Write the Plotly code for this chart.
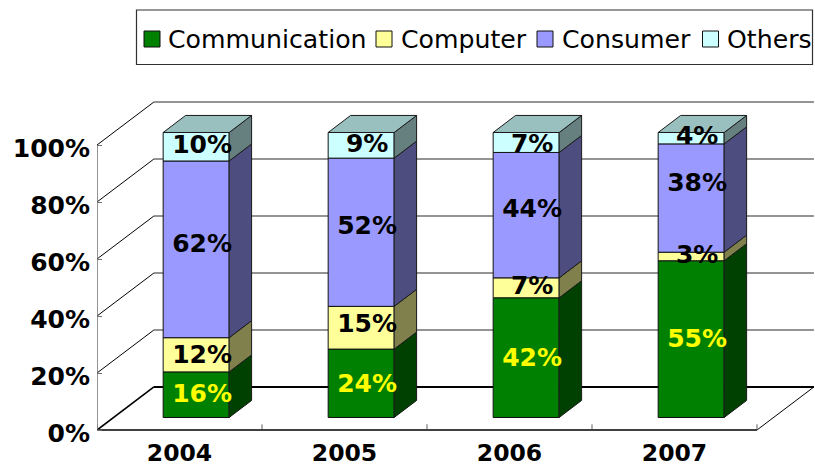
import plotly.graph_objects as go

years = ["2004", "2005", "2006", "2007"]
series_names = ["Communication", "Computer", "Consumer", "Others"]
communication = [16, 24, 42, 55]
computer = [12, 15, 7, 3]
consumer = [62, 52, 44, 38]
others = [10, 9, 7, 4]
y_ticks = [0, 20, 40, 60, 80, 100]

values = [communication, computer, consumer, others]
front_colors = ["#008000", "#FFFF99", "#9999FF", "#CCFFFF"]
side_colors = ["#004000", "#80804D", "#4D4D80", "#668080"]
top_color = "#99BFBF"
label_colors = ["#FFFF00", "#000000", "#000000", "#000000"]
label_nudge = [[-0.5, -0.7, -0.7, -0.4], [-0.7, 0.7, 0, -0.2],
               [1.1, 1.7, 1.4, 4.6], [0, 0, -1, 0]]

# 3-D projection, in axis units (categories / percent)
WALL_DX, WALL_DY = 0.345, 15.1
BAR_DX, BAR_DY = 0.101, 4.39
SIDE_DX, SIDE_DY = 0.136, 5.98
BAR_W = 0.4
LABEL_DX = 0.036
n = len(years)
centers = [i + 0.5 + BAR_DX for i in range(n)]

PX_PER_PCT = 2.85
PLOT_TOP, ZERO_Y, PLOT_BOTTOM, PLOT_LEFT = 98, 430, 436, 97
PLOT_W, PLOT_H = 718, PLOT_BOTTOM - PLOT_TOP
Y_MIN = -(PLOT_BOTTOM - ZERO_Y) / PX_PER_PCT
Y_MAX = (ZERO_Y - PLOT_TOP) / PX_PER_PCT
LABEL_DROP = 3 / PX_PER_PCT


def px(x):
    return (x - PLOT_LEFT) / PLOT_W


def py(y):
    return (PLOT_BOTTOM - y) / PLOT_H


fig = go.Figure()
shapes = []


def line(x0, y0, x1, y1, color, width):
    shapes.append(dict(type="line", xref="x", yref="y", x0=x0, y0=y0, x1=x1, y1=y1,
                       layer="below", line=dict(color=color, width=width)))


for t in y_ticks:
    floor = t == 0
    line(0, t, WALL_DX, t + WALL_DY, "#000000", 1.6 if floor else 1)
    line(WALL_DX, t + WALL_DY, n + WALL_DX, t + WALL_DY,
         "#000000" if floor else "#707070", 2 if floor else 1.5)
line(n, 0, n + WALL_DX, WALL_DY, "#000000", 1)
for i in range(n + 1):
    line(i, 0, i, 2, "#606060", 1)

# front faces
bottoms = [[0.0] * n]
for s in values:
    bottoms.append([b + v for b, v in zip(bottoms[-1], s)])
for k, name in enumerate(series_names):
    fig.add_trace(go.Bar(
        x=centers, y=values[k], base=[b + BAR_DY for b in bottoms[k]], width=BAR_W, name=name,
        marker=dict(color=front_colors[k], line=dict(color="#111111", width=1)),
        showlegend=False, hoverinfo="skip"))

# side faces
for k, name in enumerate(series_names):
    xs, ys = [], []
    for i in range(n):
        r = centers[i] + BAR_W / 2
        lo, hi = bottoms[k][i] + BAR_DY, bottoms[k + 1][i] + BAR_DY
        xs += [r, r + SIDE_DX, r + SIDE_DX, r, r, None]
        ys += [lo, lo + SIDE_DY, hi + SIDE_DY, hi, lo, None]
    fig.add_trace(go.Scatter(x=xs, y=ys, mode="lines", fill="toself", fillcolor=side_colors[k],
                             line=dict(color="#1a1a1a", width=1), showlegend=False,
                             hoverinfo="skip", cliponaxis=False))

# top faces
xs, ys = [], []
for i in range(n):
    l, r = centers[i] - BAR_W / 2, centers[i] + BAR_W / 2
    h = bottoms[-1][i] + BAR_DY
    xs += [l, r, r + SIDE_DX, l + SIDE_DX, l, None]
    ys += [h, h, h + SIDE_DY, h + SIDE_DY, h, None]
fig.add_trace(go.Scatter(x=xs, y=ys, mode="lines", fill="toself", fillcolor=top_color,
                         line=dict(color="#1a1a1a", width=1), showlegend=False,
                         hoverinfo="skip", cliponaxis=False))

# axis lines
fig.add_trace(go.Scatter(x=[0, 0], y=[0, 100], mode="lines", line=dict(color="#707070", width=1.5),
                         showlegend=False, hoverinfo="skip", cliponaxis=False))
fig.add_trace(go.Scatter(x=[0, n], y=[0, 0], mode="lines", line=dict(color="#404040", width=2),
                         showlegend=False, hoverinfo="skip", cliponaxis=False))

# data labels
for k in range(len(values)):
    fig.add_trace(go.Scatter(
        x=[c + LABEL_DX for c in centers],
        y=[(bottoms[k][i] + bottoms[k + 1][i]) / 2 + BAR_DY + label_nudge[k][i] for i in range(n)],
        mode="text", text=[f"{v}%" for v in values[k]], textposition="middle center",
        textfont=dict(family="DejaVu Sans", size=25, color=label_colors[k], weight=700),
        showlegend=False, hoverinfo="skip", cliponaxis=False))

# overlay axis that carries the percent labels, sitting slightly under their tick marks
fig.add_trace(go.Scatter(x=[0], y=[0], yaxis="y2", mode="none", showlegend=False, hoverinfo="skip"))

# legend
shapes.append(dict(type="rect", xref="paper", yref="paper", layer="above",
                   x0=px(136.5), x1=px(812.5), y0=py(64.5), y1=py(10),
                   line=dict(color="#303030", width=1.2), fillcolor="#FFFFFF"))
annotations = []
swatch_x = [144, 376, 537, 702.5]
text_x = [167, 400, 561, 726]
for k, name in enumerate(series_names):
    shapes.append(dict(type="rect", xref="paper", yref="paper", layer="above",
                       x0=px(swatch_x[k]), x1=px(swatch_x[k] + 16), y0=py(47), y1=py(31),
                       line=dict(color="#111111", width=1), fillcolor=front_colors[k]))
    annotations.append(dict(xref="paper", yref="paper", x=px(text_x[k]), y=py(39.5),
                            xanchor="left", yanchor="middle", showarrow=False, text=name, borderpad=0,
                            font=dict(family="DejaVu Sans", size=25.2, color="#000000")))

fig.update_layout(
    width=815, height=466, autosize=False,
    margin=dict(l=PLOT_LEFT, r=0, t=PLOT_TOP, b=466 - PLOT_BOTTOM, pad=0),
    paper_bgcolor="#FFFFFF", plot_bgcolor="#FFFFFF",
    barmode="overlay", showlegend=False, shapes=shapes, annotations=annotations,
    xaxis=dict(range=[0, PLOT_W / 165], tickmode="array", tickvals=[i + 0.5 for i in range(n)], ticktext=years,
               ticks="", showgrid=False, zeroline=False, showline=False,
               tickfont=dict(family="DejaVu Sans", size=23.5, color="#000000", weight=700)),
    yaxis=dict(range=[Y_MIN, Y_MAX], tickmode="array", tickvals=y_ticks, showticklabels=False,
               ticks="inside", ticklen=5, tickcolor="#707070", tickwidth=1, showgrid=False, zeroline=False,
               showline=False),
    yaxis2=dict(range=[Y_MIN + LABEL_DROP, Y_MAX + LABEL_DROP], overlaying="y", side="left", anchor="x",
                tickmode="array", tickvals=y_ticks, ticktext=[f"{t}%" for t in y_ticks],
                ticks="", showgrid=False, zeroline=False, showline=False, ticklabelstandoff=6,
                tickfont=dict(family="DejaVu Sans", size=25, color="#000000", weight=700)),
)

fig.write_html("out.html", config={"displayModeBar": False},
               post_script="document.body.style.margin='0';document.documentElement.style.overflow='hidden';")
